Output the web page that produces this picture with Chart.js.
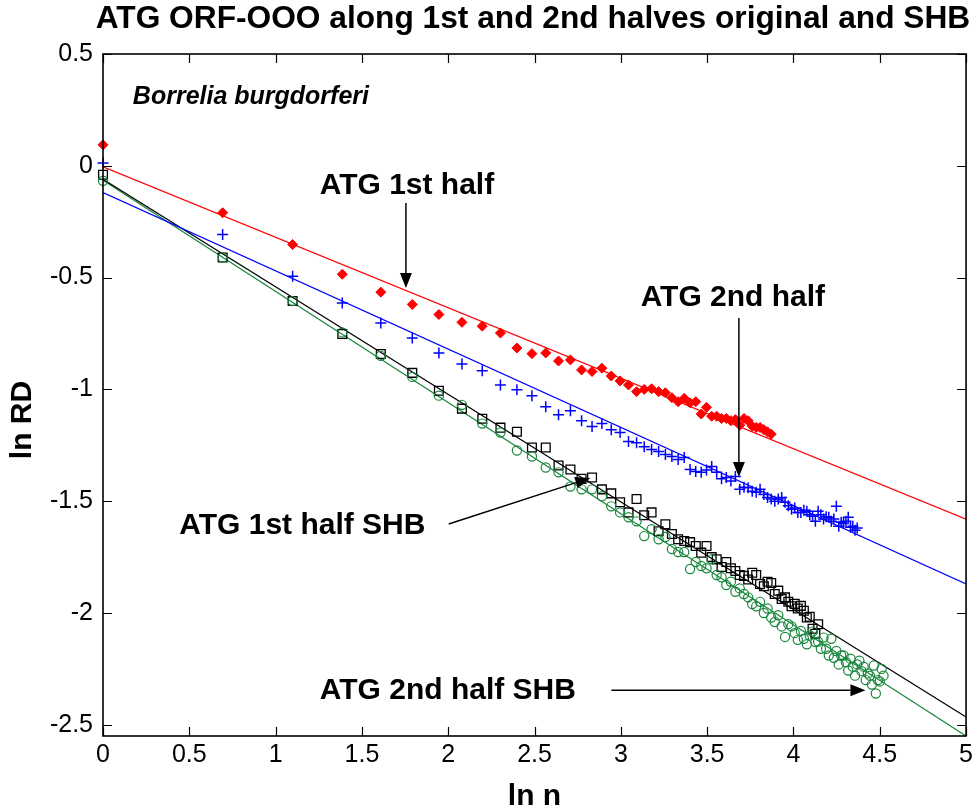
<!DOCTYPE html>
<html>
<head>
<meta charset="utf-8">
<script src="https://cdn.jsdelivr.net/npm/chart.js@4/dist/chart.umd.min.js"></script>
<style>
html,body{margin:0;padding:0;background:#fff;}
#c{display:block;}
</style>
</head>
<body>
<canvas id="c" width="977" height="812"></canvas>
<script>
// ---- data (ln RD values for n = 1, 2, 3, ... ; x = ln n) ----
const atg1st = [0.094,-0.21,-0.352,-0.485,-0.565,-0.62,-0.665,-0.70,-0.717,-0.748,
  -0.815,-0.84,-0.837,-0.873,-0.868,-0.913,-0.92,-0.905,-0.94,-0.962,
  -0.98,-1.01,-1.0,-0.997,-1.01,-1.015,-1.037,-1.055,-1.04,-1.06,
  -1.055,-1.11,-1.08,-1.12,-1.12,-1.13,-1.13,-1.14,-1.135,-1.16,
  -1.13,-1.14,-1.165,-1.17,-1.17,-1.18,-1.19,-1.2];
const atg2nd = [0.013,-0.307,-0.494,-0.614,-0.703,-0.770,-0.837,-0.886,-0.917,-0.980,
  -1.002,-1.028,-1.077,-1.113,-1.095,-1.140,-1.166,-1.153,-1.180,-1.193,
  -1.233,-1.238,-1.256,-1.269,-1.278,-1.291,-1.300,-1.313,-1.305,-1.358,
  -1.367,-1.371,-1.36,-1.345,-1.371,-1.40,-1.394,-1.41,-1.389,-1.447,
  -1.438,-1.44,-1.456,-1.46,-1.447,-1.47,-1.483,-1.49,-1.50,-1.49,
  -1.483,-1.505,-1.52,-1.536,-1.53,-1.55,-1.55,-1.54,-1.545,-1.56,
  -1.567,-1.59,-1.545,-1.56,-1.58,-1.57,-1.572,-1.59,-1.58,-1.523,
  -1.612,-1.594,-1.60,-1.59,-1.572,-1.616,-1.612,-1.63,-1.62];
const atg1stSHB = [-0.04,-0.41,-0.605,-0.752,-0.842,-0.926,-1.006,-1.086,-1.131,-1.171,
  -1.189,-1.26,-1.26,-1.34,-1.358,-1.40,-1.394,-1.447,-1.465,-1.505,
  -1.55,-1.49,-1.563,-1.55,-1.634,-1.603,-1.647,-1.67,-1.678,-1.683,
  -1.70,-1.73,-1.70,-1.75,-1.76,-1.794,-1.772,-1.80,-1.812,-1.83,
  -1.834,-1.85,-1.82,-1.83,-1.87,-1.88,-1.86,-1.866,-1.915,-1.90,
  -1.937,-1.93,-1.95,-1.97,-1.959,-1.98,-1.968,-1.99,-2.02,-2.017,
  -2.07,-2.093,-2.05];
const atg2ndSHB = [-0.067,-0.41,-0.605,-0.745,-0.85,-0.944,-1.028,-1.069,-1.153,-1.193,
  -1.273,-1.30,-1.349,-1.371,-1.434,-1.447,-1.447,-1.478,-1.523,-1.55,
  -1.572,-1.59,-1.656,-1.625,-1.67,-1.66,-1.714,-1.727,-1.727,-1.803,
  -1.772,-1.79,-1.80,-1.76,-1.83,-1.84,-1.875,-1.86,-1.905,-1.89,
  -1.915,-1.93,-1.96,-1.97,-1.95,-2.0,-1.98,-2.02,-2.04,-2.01,
  -2.06,-2.107,-2.05,-2.06,-2.09,-2.12,-2.08,-2.115,-2.14,-2.10,
  -2.083,-2.13,-2.128,-2.16,-2.11,-2.16,-2.19,-2.115,-2.2,-2.17,
  -2.23,-2.19,-2.19,-2.22,-2.257,-2.204,-2.24,-2.28,-2.23,-2.213,
  -2.26,-2.24,-2.30,-2.27,-2.28,-2.32,-2.235,-2.36,-2.30,-2.306,
  -2.25,-2.28];
// linear fits (intercept, slope) for each series, in the same order
const fitIntercepts = [-0.005, -0.12, -0.06, -0.065];
const fitSlopes     = [-0.315, -0.35, -0.481, -0.497];
const xTicks = [0,0.5,1,1.5,2,2.5,3,3.5,4,4.5,5];
const yTicks = [-2.5,-2,-1.5,-1,-0.5,0,0.5];
const xRange = [0, 5];
const yRange = [-2.55, 0.5];

const seriesNames = ['ATG 1st half','ATG 2nd half','ATG 1st half SHB','ATG 2nd half SHB'];
const seriesValues = [atg1st, atg2nd, atg1stSHB, atg2ndSHB];
const colors = ['#ff0000','#0000ff','#000000','#18873c'];
const styles = [
  {pointStyle:'rectRot', pointRadius:5, fill:true, bw:1},
  {pointStyle:'cross', pointRadius:5.5, fill:false, bw:1.5},
  {pointStyle:'rect', pointRadius:6.2, fill:false, bw:1.3},
  {pointStyle:'circle', pointRadius:4.6, fill:false, bw:1.2}
];

const toPoints = vals => vals.map((v, i) => ({x: Math.log(i + 1), y: v}));

const datasets = [];
seriesValues.forEach((vals, k) => {
  datasets.push({
    label: seriesNames[k] + ' fit',
    data: xRange.map(xv => ({x: xv, y: fitIntercepts[k] + fitSlopes[k] * xv})),
    showLine: true, pointRadius: 0, borderColor: colors[k], borderWidth: 1.2,
    backgroundColor: colors[k], order: 10
  });
});
seriesValues.forEach((vals, k) => {
  const s = styles[k];
  datasets.push({
    label: seriesNames[k],
    data: toPoints(vals),
    showLine: false,
    pointStyle: s.pointStyle,
    pointRadius: s.pointRadius,
    pointBorderWidth: s.bw,
    pointBorderColor: colors[k],
    pointBackgroundColor: s.fill ? colors[k] : 'rgba(0,0,0,0)',
    borderColor: colors[k],
    clip: false,
    order: 4 - k
  });
});

// annotations in data coordinates
const textNotes = [
  {text: 'ATG 1st half', x: 1.761, y: -0.126, align: 'center', font: 'bold 30px "Liberation Sans", Arial, sans-serif'},
  {text: 'ATG 2nd half', x: 3.649, y: -0.627, align: 'center', font: 'bold 30px "Liberation Sans", Arial, sans-serif'},
  {text: 'ATG 1st half SHB', x: 1.155, y: -1.647, align: 'center', font: 'bold 30px "Liberation Sans", Arial, sans-serif'},
  {text: 'ATG 2nd half SHB', x: 1.998, y: -2.385, align: 'center', font: 'bold 30px "Liberation Sans", Arial, sans-serif'},
  {text: 'Borrelia burgdorferi', x: 0.173, y: 0.276, align: 'left', font: 'italic bold 25px "Liberation Sans", Arial, sans-serif'}
];
const arrows = [
  {x1: 1.755, y1: -0.166, x2: 1.755, y2: -0.547},
  {x1: 3.684, y1: -0.681, x2: 3.684, y2: -1.392},
  {x1: 2.003, y1: -1.602, x2: 2.823, y2: -1.396},
  {x1: 2.945, y1: -2.345, x2: 4.417, y2: -2.345}
];

const decor = {
  id: 'decor',
  beforeDraw(chart) {
    const ctx = chart.ctx;
    ctx.save();
    ctx.fillStyle = '#fff';
    ctx.fillRect(0, 0, chart.width, chart.height);
    ctx.restore();
  },
  afterDraw(chart) {
    const {ctx, chartArea: a, scales: {x, y}} = chart;
    ctx.save();
    // box
    ctx.strokeStyle = '#000';
    ctx.lineWidth = 1.6;
    ctx.strokeRect(a.left, a.top, a.right - a.left, a.bottom - a.top);
    // inward ticks on all four sides
    ctx.lineWidth = 1.2;
    ctx.beginPath();
    xTicks.forEach(v => {
      const px = Math.round(x.getPixelForValue(v)) + 0.5;
      ctx.moveTo(px, a.bottom); ctx.lineTo(px, a.bottom - 9);
      ctx.moveTo(px, a.top); ctx.lineTo(px, a.top + 9);
    });
    yTicks.forEach(v => {
      const py = Math.round(y.getPixelForValue(v)) + 0.5;
      ctx.moveTo(a.left, py); ctx.lineTo(a.left + 9, py);
      ctx.moveTo(a.right, py); ctx.lineTo(a.right - 9, py);
    });
    ctx.stroke();

    // arrows
    ctx.strokeStyle = '#000';
    ctx.fillStyle = '#000';
    ctx.lineWidth = 1.5;
    arrows.forEach(ar => {
      const x1 = x.getPixelForValue(ar.x1), y1 = y.getPixelForValue(ar.y1);
      const x2 = x.getPixelForValue(ar.x2), y2 = y.getPixelForValue(ar.y2);
      const ang = Math.atan2(y2 - y1, x2 - x1);
      const L = 15, W = 6;
      const bx = x2 - L * Math.cos(ang), by = y2 - L * Math.sin(ang);
      ctx.beginPath();
      ctx.moveTo(x1, y1); ctx.lineTo(bx, by);
      ctx.stroke();
      ctx.beginPath();
      ctx.moveTo(x2, y2);
      ctx.lineTo(bx + W * Math.sin(ang), by - W * Math.cos(ang));
      ctx.lineTo(bx - W * Math.sin(ang), by + W * Math.cos(ang));
      ctx.closePath();
      ctx.fill();
    });

    // annotation texts
    ctx.textBaseline = 'alphabetic';
    textNotes.forEach(t => {
      ctx.font = t.font;
      ctx.textAlign = t.align;
      ctx.fillText(t.text, x.getPixelForValue(t.x), y.getPixelForValue(t.y));
    });

    // title
    ctx.font = 'bold 31.7px "Liberation Sans", Arial, sans-serif';
    ctx.textAlign = 'center';
    ctx.fillText('ATG ORF-OOO along 1st and 2nd halves original and SHB', 533, 28);

    // axis titles
    ctx.font = 'bold 30px "Liberation Sans", Arial, sans-serif';
    ctx.textAlign = 'center';
    ctx.textBaseline = 'middle';
    ctx.fillText('ln n', (a.left + a.right) / 2, 797);
    ctx.save();
    ctx.translate(23, 420);
    ctx.rotate(-Math.PI / 2);
    ctx.fillText('ln RD', 0, 0);
    ctx.restore();
    ctx.restore();
  }
};

new Chart(document.getElementById('c'), {
  type: 'scatter',
  data: {datasets},
  plugins: [decor],
  options: {
    responsive: false,
    animation: false,
    devicePixelRatio: 1,
    layout: {padding: {top: 54, right: 8, left: 0, bottom: 0}},
    plugins: {legend: {display: false}, tooltip: {enabled: false}, title: {display: false}},
    scales: {
      x: {
        type: 'linear', min: xRange[0], max: xRange[1],
        afterBuildTicks: s => { s.ticks = xTicks.map(v => ({value: v})); },
        afterFit: s => { s.height = 76; },
        grid: {display: false, drawTicks: false},
        border: {display: false},
        ticks: {
          color: '#000', padding: 4,
          font: {family: '"Liberation Sans", Arial, sans-serif', size: 25},
          callback: v => String(v)
        }
      },
      y: {
        type: 'linear', min: yRange[0], max: yRange[1],
        afterBuildTicks: s => { s.ticks = yTicks.map(v => ({value: v})); },
        afterFit: s => { s.width = 103; },
        grid: {display: false, drawTicks: false},
        border: {display: false},
        ticks: {
          color: '#000', padding: 10,
          font: {family: '"Liberation Sans", Arial, sans-serif', size: 25},
          callback: v => String(v)
        }
      }
    }
  }
});
</script>
</body>
</html>
